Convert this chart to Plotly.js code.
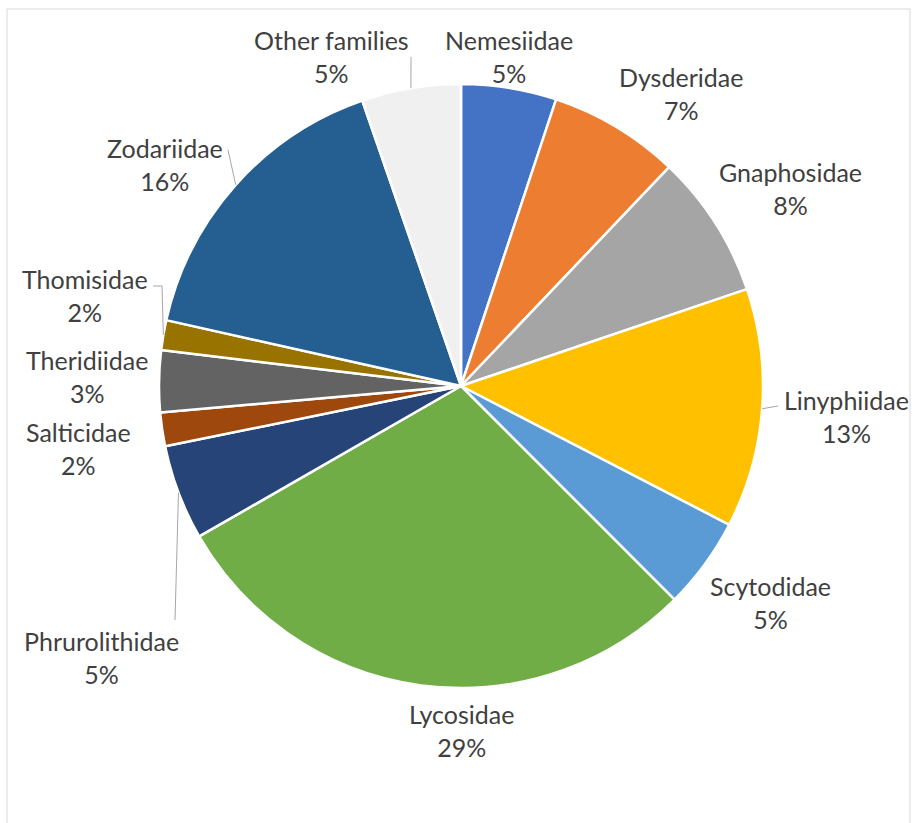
<!DOCTYPE html>
<html>
<head>
<meta charset="utf-8">
<script src="https://cdn.plot.ly/plotly-3.0.1.min.js"></script>
<style>
  html, body { margin: 0; padding: 0; background: #ffffff; }
  #chart { width: 915px; height: 823px; }
</style>
</head>
<body>
<div id="chart"></div>
<script>
// ---- Data ----
const families = ["Nemesiidae", "Dysderidae", "Gnaphosidae", "Linyphiidae", "Scytodidae",
  "Lycosidae", "Phrurolithidae", "Salticidae", "Theridiidae", "Thomisidae",
  "Zodariidae", "Other families"];
const shares = [5.1, 7.0, 7.7, 12.8, 4.9, 29.2, 5.1, 1.8, 3.3, 1.6, 16.2, 5.3];

// ---- Styles ----
const sliceColors = ["#4472C4", "#ED7D31", "#A5A5A5", "#FFC000", "#5B9BD5",
  "#70AD47", "#264478", "#9E480E", "#636363", "#997300", "#255E91", "#F0F0F0"];

const W = 915, H = 823;
const CX = 461, CY = 386, R = 302;
// label block centres (pixels)
const labelPos = [[509, 57], [681, 93], [790, 188], [846, 417], [770, 602],
  [461, 730], [101, 657], [78, 449], [87, 376], [85, 295], [165, 164], [331, 57]];
// leader line waypoints after the slice edge point (pixels), null = no leader
const leaders = [null, null, null, [[778, 406]], null, null, [[175, 620]], null, null,
  [[162, 286], [153, 286]], [[228, 150]], [[411, 57]]];

const px = x => x / W;
const py = y => 1 - y / H;

const total = shares.reduce((a, b) => a + b, 0);
const annotations = [];
const shapes = [];
let cum = 0;
families.forEach((f, i) => {
  const v = shares[i];
  const mid = (cum + v / 2) / total * 2 * Math.PI;
  cum += v;
  const pct = Math.round(v / total * 100) + "%";
  annotations.push({
    xref: "paper", yref: "paper",
    x: px(labelPos[i][0]), y: py(labelPos[i][1]),
    xanchor: "center", yanchor: "middle",
    text: f + "<br>" + pct, showarrow: false, align: "center",
    font: { family: "Lato, 'Open Sans', sans-serif", size: 25, color: "#404040" }
  });
  if (leaders[i]) {
    const ex = CX + R * Math.sin(mid), ey = CY - R * Math.cos(mid);
    let path = "M " + px(ex) + "," + py(ey);
    leaders[i].forEach(p => { path += " L " + px(p[0]) + "," + py(p[1]); });
    shapes.push({ type: "path", xref: "paper", yref: "paper", path: path,
      line: { color: "#A6A6A6", width: 1 } });
  }
});
// chart-area border
shapes.push({ type: "rect", xref: "paper", yref: "paper",
  x0: px(7), x1: px(910), y0: py(830), y1: py(9),
  line: { color: "#D9D9D9", width: 1 }, fillcolor: "rgba(0,0,0,0)", layer: "below" });

const trace = {
  type: "pie",
  labels: families,
  values: shares,
  sort: false,
  direction: "clockwise",
  rotation: 0,
  textinfo: "none",
  hoverinfo: "label+percent",
  marker: { colors: sliceColors, line: { color: "#ffffff", width: 2.5 } },
  domain: { x: [px(CX - R), px(CX + R)], y: [py(CY + R), py(CY - R)] },
  showlegend: false
};

const layout = {
  width: W, height: H,
  margin: { l: 0, r: 0, t: 0, b: 0 },
  paper_bgcolor: "#ffffff",
  showlegend: false,
  annotations: annotations,
  shapes: shapes
};

Plotly.newPlot("chart", [trace], layout, { displayModeBar: false, staticPlot: true });
</script>
</body>
</html>
